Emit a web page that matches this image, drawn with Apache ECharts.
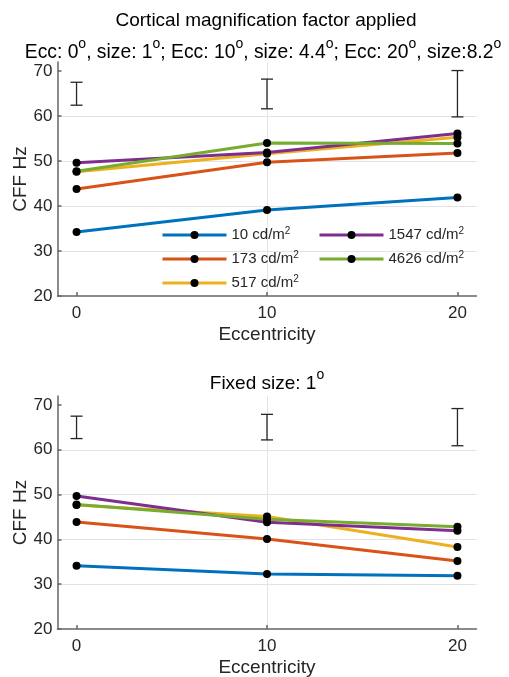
<!DOCTYPE html>
<html>
<head>
<meta charset="utf-8">
<script src="https://cdn.jsdelivr.net/npm/echarts@6/dist/echarts.min.js"></script>
<style>html,body{margin:0;padding:0;background:#fff;}#chart{width:509px;height:677px;}</style>
</head>
<body>
<div id="chart"></div>
<script>
// ---- data ----
const eccentricity = [0, 10, 20];
const seriesNames = ['10 cd/m²', '173 cd/m²', '517 cd/m²', '1547 cd/m²', '4626 cd/m²'];
const colors = ['#0072BD', '#D95319', '#EDB120', '#7E2F8E', '#77AC30'];
// Top: cortical magnification factor applied
const cmf10 = [34.2, 39.1, 41.9];
const cmf173 = [43.8, 49.7, 51.8];
const cmf517 = [47.6, 51.6, 55.3];
const cmf1547 = [49.6, 51.9, 56.1];
const cmf4626 = [47.7, 54.0, 53.9];
const cmfErrLow = [62.4, 61.6, 59.8];
const cmfErrHigh = [67.5, 68.2, 70.1];
// Bottom: fixed size 1 deg
const fix10 = [34.1, 32.3, 31.9];
const fix173 = [43.9, 40.1, 35.2];
const fix517 = [47.7, 45.1, 38.3];
const fix1547 = [49.7, 43.8, 41.9];
const fix4626 = [47.8, 44.5, 42.8];
const fixErrLow = [62.5, 62.2, 60.9];
const fixErrHigh = [67.5, 67.9, 69.2];
const yTicks = [20, 30, 40, 50, 60, 70];
const xTicks = [0, 10, 20];

const topSets = [cmf10, cmf173, cmf517, cmf1547, cmf4626];
const botSets = [fix10, fix173, fix517, fix1547, fix4626];

const font = 'Liberation Sans, Arial, Helvetica, sans-serif';
const axisColor = '#666666';
const textColor = '#262626';

function xAxisFor(gi) {
  return {
    type: 'value', gridIndex: gi, min: -1, max: 21, splitNumber: 2,
    name: 'Eccentricity', nameLocation: 'middle', nameGap: 29,
    nameTextStyle: { fontFamily: font, fontSize: 19, color: textColor },
    axisLine: { show: true, onZero: false, lineStyle: { color: axisColor, width: 1.5 } },
    axisTick: { show: true, inside: true, length: 4, customValues: xTicks, lineStyle: { color: axisColor, width: 1.5 } },
    axisLabel: { customValues: xTicks, margin: 9, fontFamily: font, fontSize: 17, color: textColor },
    splitLine: { show: true, showMinLine: false, showMaxLine: false, lineStyle: { color: '#e3e3e3', width: 1 } }
  };
}
function yAxisFor(gi) {
  return {
    type: 'value', gridIndex: gi, min: 20, max: 72, splitNumber: 5,
    name: 'CFF Hz', nameLocation: 'middle', nameGap: 27, nameRotate: 90, nameMoveOverlap: false,
    nameTextStyle: { fontFamily: font, fontSize: 19, color: textColor },
    axisLine: { show: true, onZero: false, lineStyle: { color: axisColor, width: 1.5 } },
    axisTick: { show: true, inside: true, length: 4, customValues: yTicks, lineStyle: { color: axisColor, width: 1.5 } },
    axisLabel: { customValues: yTicks, margin: 5, fontFamily: font, fontSize: 17, color: textColor },
    splitLine: { show: true, showMinLine: false, showMaxLine: false, lineStyle: { color: '#e3e3e3', width: 1 } }
  };
}

function errRender(params, api) {
  const x = api.value(0), lo = api.value(1), hi = api.value(2);
  const a = api.coord([x, hi]), b = api.coord([x, lo]);
  const w = 6;
  const st = { stroke: '#262626', lineWidth: 1.3 };
  return {
    type: 'group', children: [
      { type: 'line', shape: { x1: a[0], y1: a[1], x2: b[0], y2: b[1] }, style: st },
      { type: 'line', shape: { x1: a[0] - w, y1: a[1], x2: a[0] + w, y2: a[1] }, style: st },
      { type: 'line', shape: { x1: b[0] - w, y1: b[1], x2: b[0] + w, y2: b[1] }, style: st }
    ]
  };
}

const series = [];
[topSets, botSets].forEach((sets, gi) => {
  sets.forEach((vals, i) => {
    series.push({
      type: 'line', name: seriesNames[i], xAxisIndex: gi, yAxisIndex: gi,
      data: eccentricity.map((x, k) => [x, vals[k]]),
      symbol: 'circle', symbolSize: 8, showSymbol: true,
      itemStyle: { color: '#000' },
      lineStyle: { color: colors[i], width: 3 },
      emphasis: { disabled: true }, z: 2 + i * 0.01
    });
  });
  const lo = gi === 0 ? cmfErrLow : fixErrLow;
  const hi = gi === 0 ? cmfErrHigh : fixErrHigh;
  series.push({
    type: 'custom', xAxisIndex: gi, yAxisIndex: gi,
    data: eccentricity.map((x, k) => [x, lo[k], hi[k]]),
    renderItem: errRender, silent: true, z: 3
  });
});

function titleRich(fs) {
  return {
    m: { fontFamily: font, fontSize: fs, fontWeight: 'normal', color: '#000', lineHeight: 25, verticalAlign: 'bottom' },
    s: { fontFamily: font, fontSize: 14, fontWeight: 'normal', color: '#000', lineHeight: 25, verticalAlign: 'top' }
  };
}
const legendRich = {
  m: { fontFamily: font, fontSize: 15, color: textColor, lineHeight: 18 },
  s: { fontFamily: font, fontSize: 10, color: textColor, lineHeight: 18, verticalAlign: 'top' }
};
function legendFmt(name) {
  return '{m|' + name.replace('²', '}{s|2}');
}
function legendOf(names, left) {
  return {
    orient: 'vertical', left: left, top: 226, padding: 0, itemGap: 7.5,
    itemWidth: 64, itemHeight: 10, data: names, selectedMode: false,
    lineStyle: { width: 3 },
    formatter: legendFmt, textStyle: { rich: legendRich }
  };
}

const option = {
  animation: false,
  backgroundColor: '#fff',
  title: [
    { text: '{m|Cortical magnification factor applied}', left: 261, textAlign: 'center', top: 0, textStyle: { fontWeight: 'normal', rich: titleRich(19) } },
    { text: '{m|Ecc: 0}{s|o}{m|, size: 1}{s|o}{m|; Ecc: 10}{s|o}{m|, size: 4.4}{s|o}{m|; Ecc: 20}{s|o}{m|, size:8.2}{s|o}', left: 258, textAlign: 'center', top: 32, textStyle: { fontWeight: 'normal', rich: titleRich(19.3) } },
    { text: '{m|Fixed size: 1}{s|o}', left: 262, textAlign: 'center', top: 363, textStyle: { fontWeight: 'normal', rich: titleRich(19) } }
  ],
  grid: [
    { left: 57.5, right: 32.5, top: 62, height: 234, containLabel: false, outerBoundsMode: 'none' },
    { left: 57.5, right: 32.5, top: 396, height: 233, containLabel: false, outerBoundsMode: 'none' }
  ],
  legend: [
    legendOf([seriesNames[0], seriesNames[1], seriesNames[2]], 161),
    legendOf([seriesNames[3], seriesNames[4]], 318)
  ],
  xAxis: [xAxisFor(0), xAxisFor(1)],
  yAxis: [yAxisFor(0), yAxisFor(1)],
  series: series
};

const chart = echarts.init(document.getElementById('chart'), null, { renderer: 'canvas' });
chart.setOption(option);
</script>
</body>
</html>
